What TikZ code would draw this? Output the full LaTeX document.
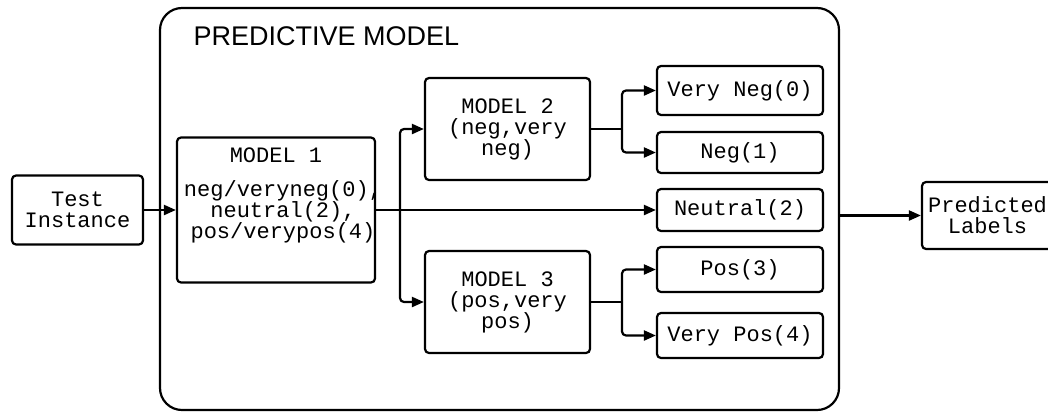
\documentclass[tikz,border=0pt]{standalone}
\usepackage{fontspec}
\setmainfont{Liberation Sans}
\setmonofont{Liberation Mono}
\usetikzlibrary{arrows.meta,positioning}

\tikzset{
  mono/.style={font=\ttfamily\fontsize{22}{21}\selectfont, align=center},
  box/.style={draw, line width=2.2pt, rounded corners=4pt, inner sep=2pt, mono},
  frame/.style={draw, line width=2.2pt, rounded corners=22pt, minimum width=679pt, minimum height=402pt},
  wire/.style={line width=2.2pt},
  flow/.style={wire, rounded corners=4pt, -{Triangle[length=12pt,width=10pt]}},
}

\begin{document}
\begin{tikzpicture}[x=1pt,y=-1pt]
\useasboundingbox (0,0) rectangle (1048,418);

% the outer model frame
\node[frame] (pm) at (499.5,209) {};
\node[anchor=base west, font=\fontsize{27}{27}\selectfont] (title) at (190,45) {PREDICTIVE MODEL};

% input and first stage
\node[box, minimum width=131pt, minimum height=69pt] (test) at (77.5,210) {Test\\Instance};
\node[box, minimum width=198pt, minimum height=145pt] (m1) at (276,210) {};
\node[mono, anchor=base] (m1head) at (276,162) {MODEL 1};
\node[mono, anchor=base] (m1body) at (283,238)
  {neg/veryneg(0),\\neutral(2),\\pos/verypos(4)};

% second stage
\node[box, minimum width=165pt, minimum height=102pt] (m2) at (507.5,129) {MODEL 2\\(neg,very\\neg)};
\node[box, minimum width=165pt, minimum height=102pt] (m3) at (507.5,302) {MODEL 3\\(pos,very\\pos)};

% class labels
\node[box, minimum width=166pt, minimum height=49pt] (vneg) at (740,90.5) {Very Neg(0)};
\node[box, minimum width=166pt, minimum height=41pt] (neg)  at (740,152.5) {Neg(1)};
\node[box, minimum width=166pt, minimum height=42pt] (neu)  at (740,210) {Neutral(2)};
\node[box, minimum width=166pt, minimum height=45pt] (pos)  at (740,269.5) {Pos(3)};
\node[box, minimum width=166pt, minimum height=45pt] (vpos) at (740,335.5) {Very Pos(4)};

\node[box, minimum width=131pt, minimum height=67pt] (lab) at (987.5,215.5) {Predicted\\Labels};

% split points
\coordinate (j1) at (400,210);
\coordinate (j2) at (622,129);
\coordinate (j3) at (622,302);

\draw[flow] (test) -- (m1);
\draw[wire] (m1.east) -- (j1);
\draw[flow] (j1) |- (m2.west);
\draw[flow] (j1) |- (m3.west);
\draw[flow] (j1) -- (neu.west);

\draw[wire] (m2.east) -- (j2);
\draw[flow] (j2) |- (vneg.west);
\draw[flow] (j2) |- (neg.west);

\draw[wire] (m3.east) -- (j3);
\draw[flow] (j3) |- (pos.west);
\draw[flow] (j3) |- (vpos.west);

\draw[flow] (pm.east |- lab.west) -- (lab.west);
\end{tikzpicture}
\end{document}
